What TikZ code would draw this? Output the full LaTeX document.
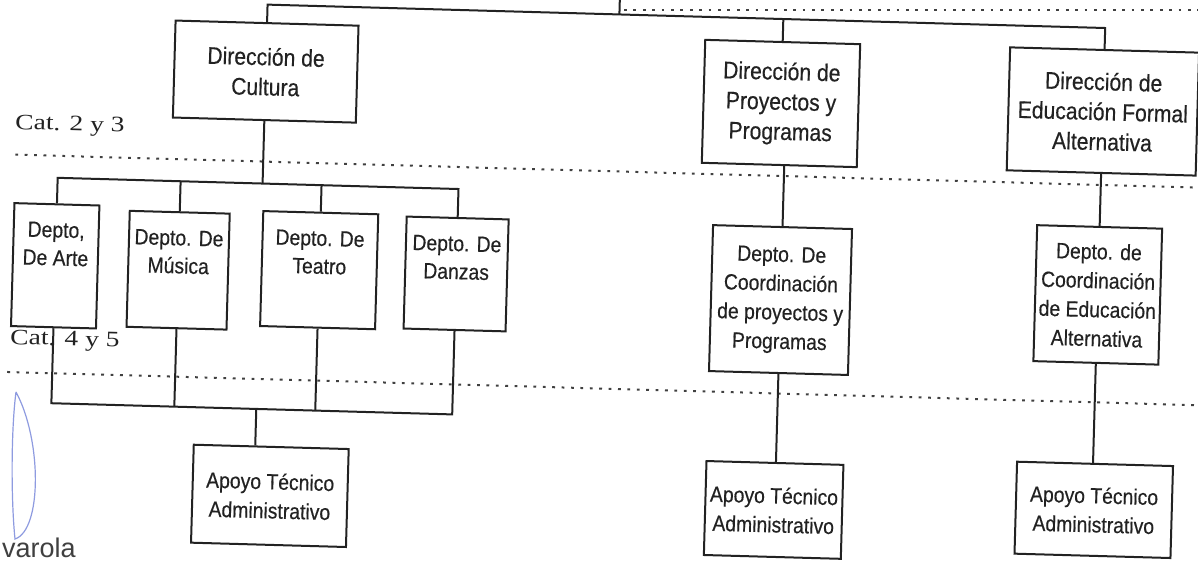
\documentclass[tikz,border=0pt]{standalone}
\usepackage{fontspec}
\newfontfamily\boxfont{Liberation Sans}[FakeStretch=0.88, FakeBold=0.4]
\newfontfamily\catfont{Liberation Serif}[FakeStretch=1.25]
\newfontfamily\signfont{Liberation Sans}
\definecolor{ink}{HTML}{222222}
\definecolor{penblue}{HTML}{8E9BE0}
% text block pinned to the top of a fixed-size box
\newcommand\toptext[3]{\parbox[c][#2][t]{#1}{\centering\vspace*{18pt}#3}}
\tikzset{
  orgbox/.style={draw=ink, line width=2pt, inner sep=0pt, align=center, text=ink},
  dirbox/.style={orgbox, font=\boxfont\fontsize{24}{30}\selectfont},
  depbox/.style={orgbox, font=\boxfont\fontsize{22}{28}\selectfont},
  subbox/.style={orgbox, font=\boxfont\fontsize{22}{29}\selectfont},
  link/.style={draw=ink, line width=2pt},
  level/.style={draw=black!75, line width=2pt, dash pattern=on 2.8pt off 6.6pt},
  catlabel/.style={font=\catfont\fontsize{22}{26}\selectfont, text=ink, inner sep=0pt, anchor=base west},
}
\begin{document}
\begin{tikzpicture}[x=1pt,y=-1pt]
\path[use as bounding box, fill=white] (0,0) rectangle (1198,561);
\clip (0,0) rectangle (1198,561);

\begin{scope}[rotate around={-1.6:(600,280)}, transform shape]
  % horizontal buses
  \coordinate (parent) at (612,-30);
  \coordinate (topbus) at (0,14);
  \coordinate (bus1) at (0,193);
  \coordinate (bus2) at (0,418.5);
  \coordinate (lvlA) at (12,171);
  \coordinate (lvlB) at (10,388.5);

  % directions
  \node[dirbox, minimum width=183pt, minimum height=97pt] (cult) at (260,81)
    {Dirección de\\Cultura};
  \node[dirbox, minimum width=155pt, minimum height=123pt] (proy) at (776,98.5)
    {Dirección de\\Proyectos y\\Programas};
  \node[dirbox, minimum width=189pt, minimum height=123pt] (edu) at (1098,97.5)
    {Dirección de\\Educación Formal\\Alternativa};

  % departments of culture
  \node[depbox] (arte) at (55,281) {\toptext{85pt}{123pt}{Depto,\\De Arte}};
  \node[depbox] (musica) at (178,282) {\toptext{100pt}{116pt}{Depto. De\\Música}};
  \node[depbox] (teatro) at (319,278) {\toptext{115pt}{115pt}{Depto. De\\Teatro}};
  \node[depbox] (danzas) at (456,278) {\toptext{102pt}{112pt}{Depto. De\\Danzas}};

  % coordination departments
  \node[subbox, minimum width=139pt, minimum height=146pt] (coordp) at (781,295)
    {Depto. De\\Coordinación\\de proyectos y\\Programas};
  \node[subbox, minimum width=125pt, minimum height=136pt] (coorde) at (1098,281)
    {Depto. de\\Coordinación\\de Educación\\Alternativa};

  % administrative support
  \node[subbox, minimum width=155pt, minimum height=98pt] (apc) at (276,505)
    {Apoyo Técnico\\Administrativo};
  \node[subbox, minimum width=137pt, minimum height=94pt] (app) at (780,505)
    {Apoyo Técnico\\Administrativo};
  \node[subbox, minimum width=156pt, minimum height=92pt] (ape) at (1100,496)
    {Apoyo Técnico\\Administrativo};

  % category labels
  \node[catlabel] (cat23) at (11,145.4) {Cat. 2 y 3};
  \node[catlabel] (cat45) at (12,360.5) {Cat. 4 y 5};

  % level separators
  \draw[level] (lvlA) -- ++(1230,0);
  \draw[level] (lvlB) -- ++(1230,0);

  % top level
  \draw[link] (parent) -- (parent |- topbus);
  \draw[link] (cult.north) |- (topbus -| edu.north) -- (edu.north);
  \draw[link] (proy.north) -- (proy.north |- topbus);

  % culture branch
  \draw[link] (cult.south) -- (cult.south |- bus1);
  \draw[link] (arte.north) |- (bus1 -| danzas.north) -- (danzas.north);
  \draw[link] (musica.north) -- (musica.north |- bus1);
  \draw[link] (teatro.north) -- (teatro.north |- bus1);
  \draw[link] (arte.south) |- (bus2 -| danzas.south) -- (danzas.south);
  \draw[link] (musica.south) -- (musica.south |- bus2);
  \draw[link] (teatro.south) -- (teatro.south |- bus2);
  \draw[link] (cult.south |- bus2) -- (apc.north -| cult.south);

  % projects branch
  \draw[link] (coordp.north |- proy.south) -- (coordp.north);
  \draw[link] (coordp.south) -- (app.north -| coordp.south);

  % alternative education branch
  \draw[link] (edu.south) -- (coorde.north);
  \draw[link] (coorde.south) -- (ape.north -| coorde.south);
\end{scope}

% dotted rule at the top right
\coordinate (lvlTop) at (624,10);
\draw[level] (lvlTop) -- (1198,10);

% pen mark and signature in the lower left corner
\draw[penblue, line width=1.2pt] (16,392) .. controls (42,440) and (42,530) .. (15,539)
  .. controls (11,500) and (11,430) .. (16,392);
\node[anchor=base west, inner sep=0pt, text=black!75,
      font=\signfont\fontsize{27}{30}\selectfont] (sign) at (2,557) {varola};
\end{tikzpicture}
\end{document}
